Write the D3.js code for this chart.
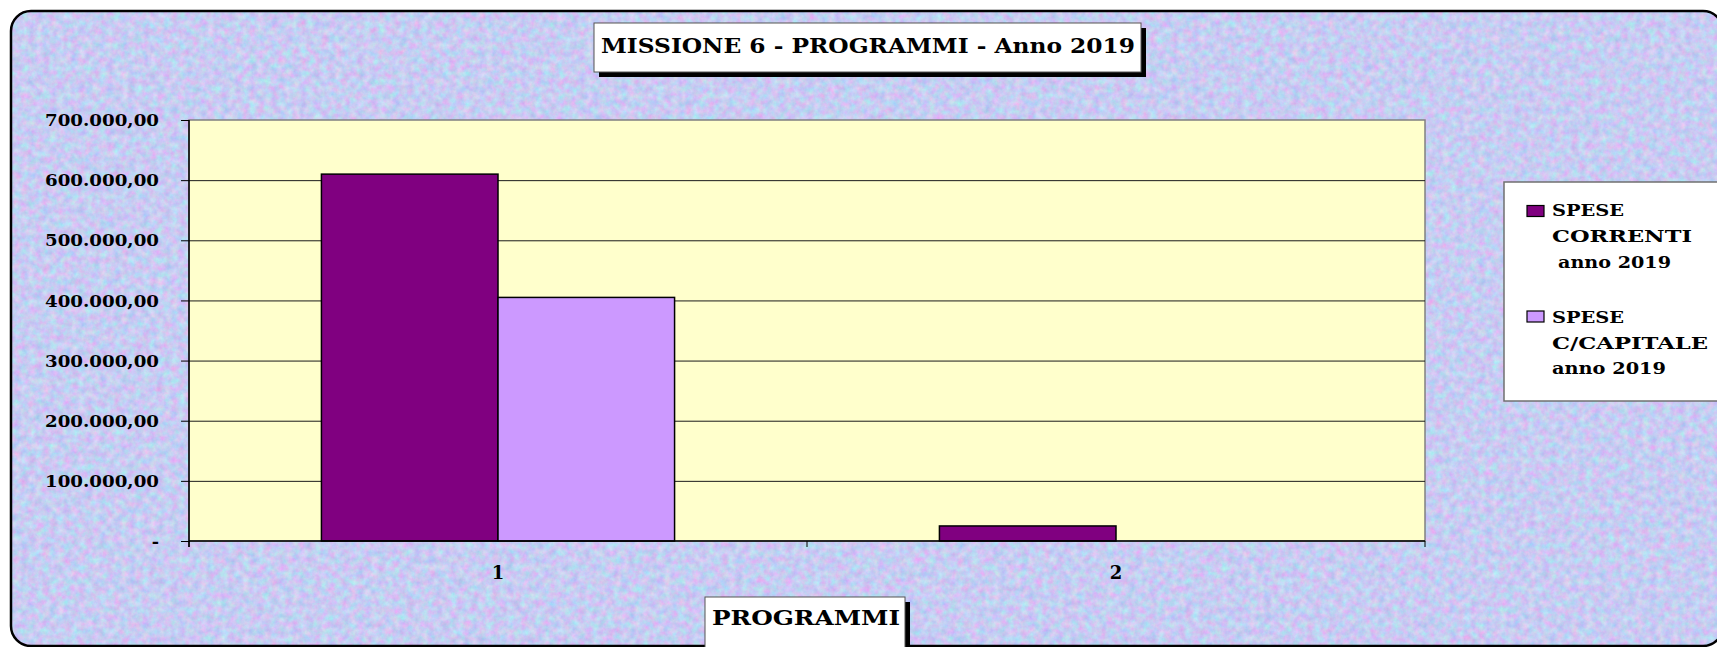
<!DOCTYPE html>
<html>
<head>
<meta charset="utf-8">
<script src="https://cdn.jsdelivr.net/npm/d3@7"></script>
<style>
  html, body { margin: 0; padding: 0; background: #ffffff; }
  svg { display: block; }
  text { font-family: "DejaVu Serif", "Liberation Serif", serif; font-weight: bold; fill: #000; }
</style>
</head>
<body>
<svg id="chart" width="1717" height="647"></svg>
<script>
// ---- data ----
const categories = ["1", "2"];
const seriesNames = ["SPESE CORRENTI anno 2019", "SPESE C/CAPITALE anno 2019"];
const speseCorrenti = [610000, 25000];
const speseCapitale = [405000, 0];
const yTicks = [0, 100000, 200000, 300000, 400000, 500000, 600000, 700000];
const legendLines = [["SPESE", "CORRENTI", "anno 2019"], ["SPESE", "C/CAPITALE", "anno 2019"]];
const chartTitle = "MISSIONE 6 - PROGRAMMI - Anno 2019";
const axisTitle = "PROGRAMMI";

const seriesColors = ["#800080", "#CC99FF"];

const svg = d3.select("#chart");

// ---- textured backdrop inside a rounded frame ----
const defs = svg.append("defs");
const tex = defs.append("filter").attr("id", "paper")
  .attr("x", 0).attr("y", 0).attr("width", 1).attr("height", 1)
  .attr("color-interpolation-filters", "sRGB");
tex.append("feTurbulence").attr("type", "fractalNoise")
  .attr("baseFrequency", "0.14").attr("numOctaves", 4).attr("seed", 7).attr("result", "noise");
tex.append("feColorMatrix").attr("in", "noise").attr("type", "matrix")
  .attr("values",
    "0.36 0 0 0 0.60 " +
    "-0.15 0.26 0 0 0.745 " +
    "0 0 0.10 0 0.90 " +
    "0 0 0 0 1").attr("result", "col");
tex.append("feComposite").attr("in", "col").attr("in2", "SourceAlpha").attr("operator", "in");

const frame = { x: 11, y: 11, w: 1712, h: 635, r: 20 };
svg.append("rect")
  .attr("x", frame.x).attr("y", frame.y).attr("width", frame.w).attr("height", frame.h)
  .attr("rx", frame.r).attr("ry", frame.r)
  .attr("fill", "#c8ccf0").attr("filter", "url(#paper)");
svg.append("rect")
  .attr("x", frame.x).attr("y", frame.y).attr("width", frame.w).attr("height", frame.h)
  .attr("rx", frame.r).attr("ry", frame.r)
  .attr("fill", "none").attr("stroke", "#000").attr("stroke-width", 2.5);

// ---- plot area ----
const plot = { left: 189, right: 1425, top: 120, bottom: 541 };

const x = d3.scaleBand().domain(categories).range([plot.left, plot.right]).padding(0);
const x1 = d3.scaleBand().domain(seriesNames).range([0, x.bandwidth()])
  .paddingInner(0).paddingOuter(0.75);
const y = d3.scaleLinear().domain([0, 700000]).range([plot.bottom, plot.top]);

svg.append("rect")
  .attr("x", plot.left).attr("y", plot.top)
  .attr("width", plot.right - plot.left).attr("height", plot.bottom - plot.top)
  .attr("fill", "#FFFFCC").attr("stroke", "#808080").attr("stroke-width", 1.5);

// gridlines
const grid = svg.append("g").attr("transform", `translate(${plot.left},0)`)
  .call(d3.axisLeft(y).tickValues(yTicks.filter(v => v > 0 && v < 700000))
    .tickSize(-(plot.right - plot.left)).tickFormat(""));
grid.select(".domain").remove();
grid.selectAll("line").attr("stroke", "#1a1a1a").attr("stroke-width", 1);

// bars
const rows = categories.map((c, i) => ({
  cat: c,
  vals: [
    { s: seriesNames[0], v: speseCorrenti[i], c: seriesColors[0] },
    { s: seriesNames[1], v: speseCapitale[i], c: seriesColors[1] }
  ]
}));
svg.append("g").selectAll("g").data(rows).join("g")
  .attr("transform", d => `translate(${x(d.cat)},0)`)
  .selectAll("rect").data(d => d.vals.filter(e => e.v > 0)).join("rect")
  .attr("x", d => x1(d.s))
  .attr("y", d => y(d.v))
  .attr("width", x1.bandwidth())
  .attr("height", d => y(0) - y(d.v))
  .attr("fill", d => d.c)
  .attr("stroke", "#000").attr("stroke-width", 1.5);

// y axis
const itFmt = d3.formatLocale({ decimal: ",", thousands: ".", grouping: [3], currency: ["", "€"] }).format(",.2f");
const yAxis = svg.append("g").attr("transform", `translate(${plot.left},0)`)
  .call(d3.axisLeft(y).tickValues(yTicks).tickSize(8).tickPadding(22)
    .tickFormat(v => v === 0 ? "-" : itFmt(v)));
yAxis.select(".domain").attr("stroke", "#000").attr("stroke-width", 1.5)
  .attr("d", `M0,${plot.top}V${plot.bottom + 6}`);
yAxis.selectAll("line").attr("stroke", "#000");
yAxis.selectAll("text")
  .style("font-family", '"DejaVu Serif", serif').style("font-weight", "bold")
  .attr("font-size", 17.5)
  .each(function (d) {
    if (d !== 0) d3.select(this).attr("textLength", 114).attr("lengthAdjust", "spacingAndGlyphs");
  });

// x axis: boundary ticks + centered labels
const xAxis = svg.append("g").attr("transform", `translate(0,${plot.bottom})`)
  .call(d3.axisBottom(x).tickSize(0).tickPadding(25));
xAxis.select(".domain").attr("stroke", "#000").attr("stroke-width", 1.5)
  .attr("d", `M${plot.left},0H${plot.right}`);
xAxis.selectAll("text")
  .style("font-family", '"DejaVu Serif", serif').style("font-weight", "bold")
  .attr("font-size", 18);
const bounds = categories.map(c => x(c)).concat([x(categories[categories.length - 1]) + x.bandwidth()]);
xAxis.selectAll("line.bound").data(bounds).join("line").attr("class", "bound")
  .attr("x1", d => d).attr("x2", d => d).attr("y1", 0).attr("y2", 6)
  .attr("stroke", "#000").attr("stroke-width", 1);

// ---- boxed labels with drop shadow ----
function shadowBox(x0, y0, w, h, off) {
  svg.append("rect").attr("x", x0 + off).attr("y", y0 + off).attr("width", w).attr("height", h).attr("fill", "#000");
  svg.append("rect").attr("x", x0).attr("y", y0).attr("width", w).attr("height", h)
    .attr("fill", "#fff").attr("stroke", "#555").attr("stroke-width", 1);
}

shadowBox(594, 23, 547, 49, 5);
svg.append("text").attr("x", 601).attr("y", 53)
  .attr("font-size", 20).attr("textLength", 534).attr("lengthAdjust", "spacingAndGlyphs")
  .text(chartTitle);

shadowBox(705, 597, 200, 60, 5);
svg.append("text").attr("x", 712).attr("y", 625)
  .attr("font-size", 20).attr("textLength", 188).attr("lengthAdjust", "spacingAndGlyphs")
  .text(axisTitle);

// ---- legend ----
svg.append("rect").attr("x", 1504).attr("y", 182).attr("width", 260).attr("height", 219)
  .attr("fill", "#fff").attr("stroke", "#707070").attr("stroke-width", 1.5);

const legendLayout = [
  { sw: 205.5, lines: [[1552, 216, 72], [1552, 242, 140], [1558, 268, 113]] },
  { sw: 311, lines: [[1552, 323, 72], [1552, 349, 156], [1552, 374, 114]] }
];
legendLines.forEach((lines, i) => {
  svg.append("rect").attr("x", 1527).attr("y", legendLayout[i].sw).attr("width", 17).attr("height", 11)
    .attr("fill", seriesColors[i]).attr("stroke", "#000").attr("stroke-width", 1.2);
  lines.forEach((t, j) => {
    const [lx, ly, lw] = legendLayout[i].lines[j];
    svg.append("text").attr("x", lx).attr("y", ly).attr("font-size", 17.5)
      .attr("textLength", lw).attr("lengthAdjust", "spacingAndGlyphs").text(t);
  });
});
</script>
</body>
</html>
